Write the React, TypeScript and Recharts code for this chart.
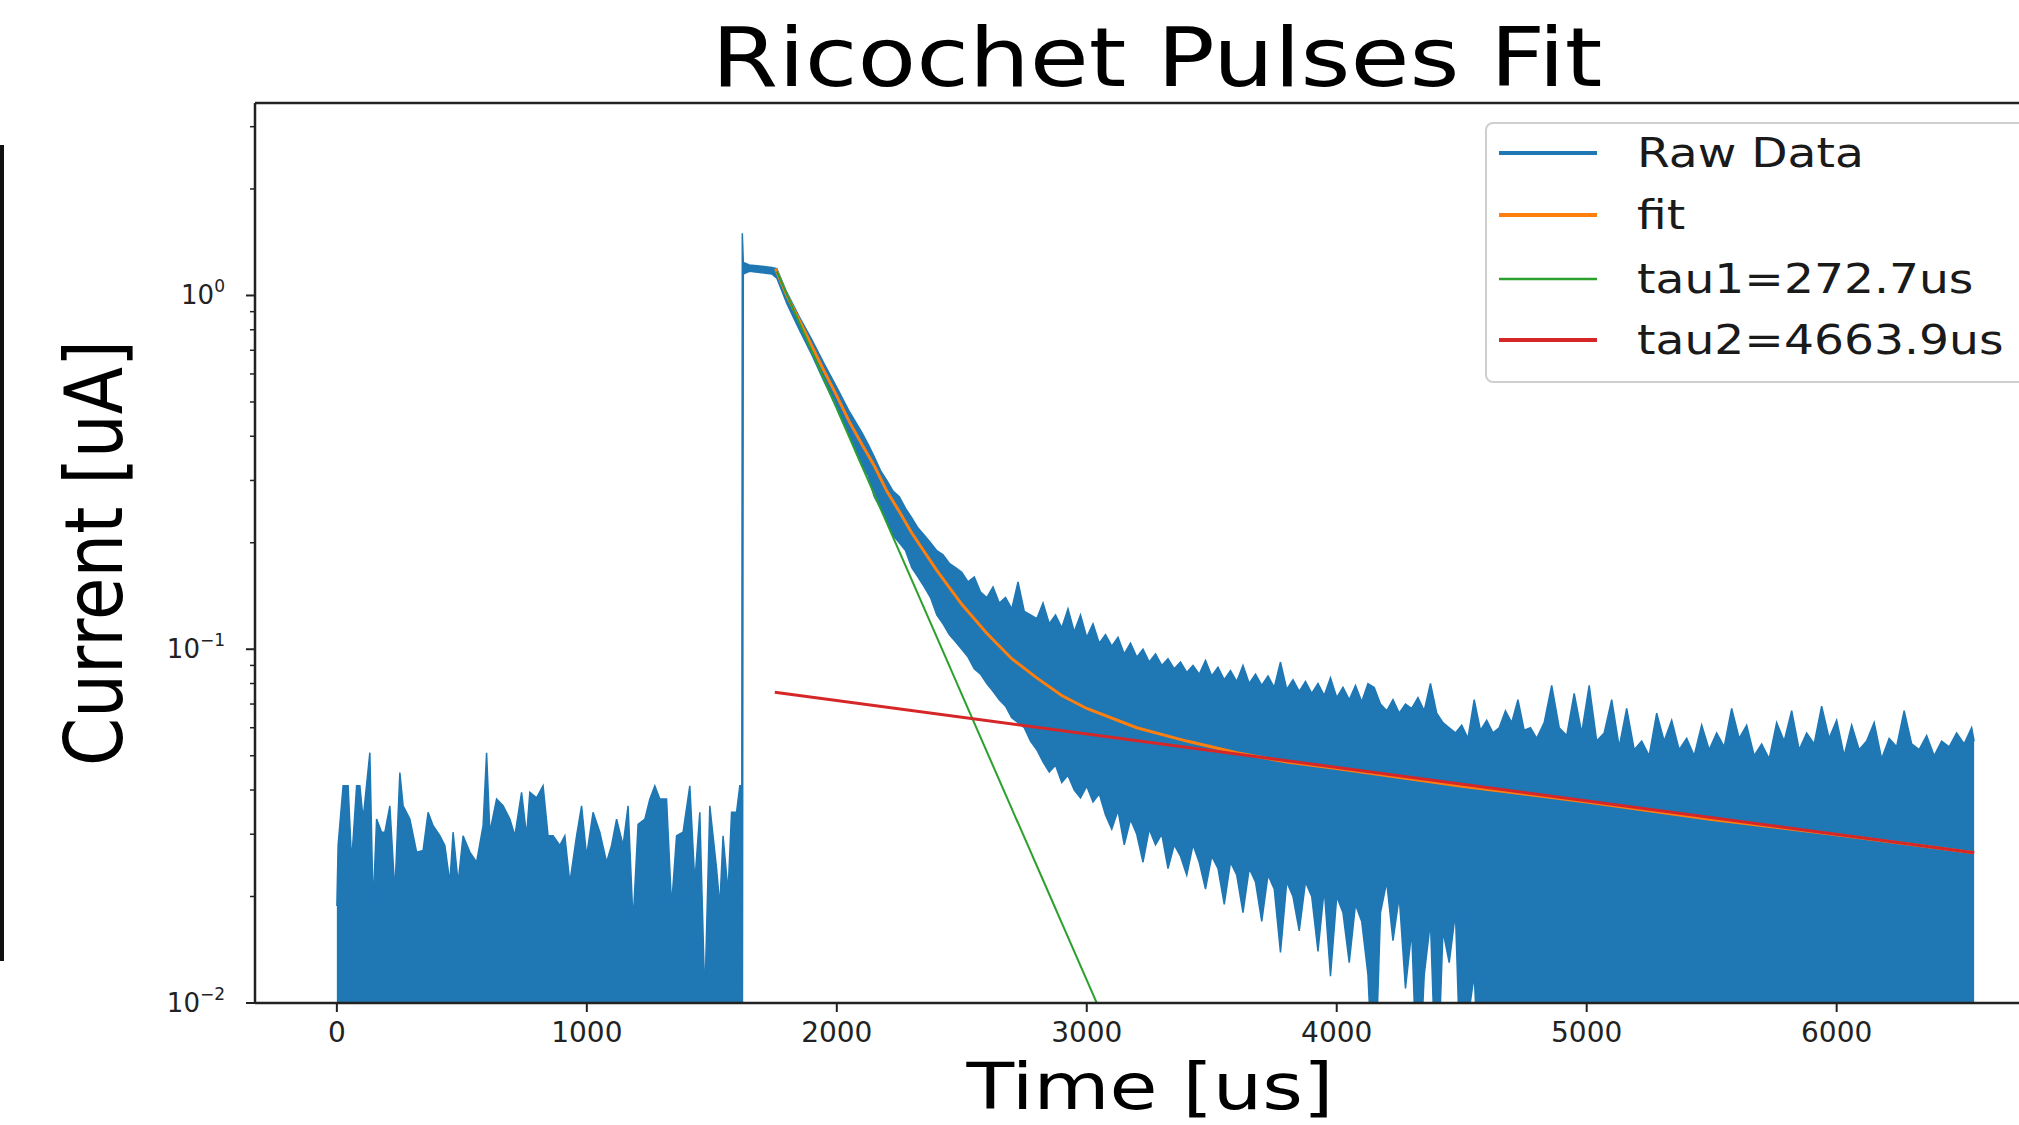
import React from 'react';
import { ComposedChart, Area, Line, XAxis, YAxis, Legend, ReferenceLine } from 'recharts';

const FONT = '"DejaVu Sans", "Liberation Sans", sans-serif';
const F = 0.005; // trough reaches below the 10^-2 axis floor

// ---- Raw data: baseline noise before the pulse (troughs reach below the axis) ----
const baseTime = [
  0, 5, 25, 45, 59, 79, 92, 105, 132, 145,
  159, 179, 192, 212, 232, 252, 265, 292, 319, 345,
  365, 385, 412, 432, 452, 465, 485, 505, 532, 559,
  585, 599, 612, 639, 665, 692, 712, 739, 759, 772,
  799, 825, 845, 865, 892, 912, 932, 959, 979, 999,
  1025, 1052, 1079, 1099, 1119, 1145, 1165, 1185, 1205, 1232,
  1252, 1272, 1292, 1319, 1339, 1359, 1385, 1412, 1432, 1452,
  1472, 1492, 1519, 1532, 1545, 1565, 1579, 1599, 1612, 1620,
];
const baseHigh = [
  0.0188, 0.0279, 0.0411, 0.0411, 0.025, 0.0411, 0.0411, 0.0331, 0.051, 0.0188,
  0.0331, 0.0304, 0.0304, 0.0361, 0.0206, 0.0448, 0.0361, 0.0331, 0.0267, 0.027,
  0.0346, 0.0317, 0.0297, 0.0279, 0.0219, 0.0304, 0.0219, 0.0297, 0.0267, 0.025,
  0.0317, 0.051, 0.0304, 0.0377, 0.0361, 0.0331, 0.0297, 0.0394, 0.0297, 0.0394,
  0.038, 0.0411, 0.0297, 0.0297, 0.0279, 0.0297, 0.0219, 0.0297, 0.0361, 0.026,
  0.0346, 0.0304, 0.025, 0.0279, 0.0331, 0.0279, 0.0361, 0.0169, 0.032, 0.0331,
  0.0377, 0.0411, 0.0377, 0.0377, 0.0188, 0.0297, 0.0304, 0.0411, 0.0219, 0.0346,
  0.0103, 0.0361, 0.024, 0.0188, 0.0297, 0.0206, 0.0346, 0.0346, 0.0411, 0.0411,
];

// ---- Raw data: pulse, plateau and decaying band ----
const pulseTime = [
  1622, 1626, 1650, 1700, 1740, 1760, 1800, 1850, 1900, 1950, 2000, 2050,
  2100, 2125, 2150, 2175, 2200, 2225, 2250, 2275, 2300, 2325,
  2350, 2375, 2400, 2425, 2450, 2475, 2500, 2525, 2550, 2575,
  2600, 2625, 2650, 2675, 2700, 2725, 2750, 2775, 2800, 2825,
  2850, 2875, 2900, 2925, 2950, 2975, 3000, 3025, 3050, 3075,
  3100, 3125, 3150, 3175, 3200, 3225, 3250, 3275, 3300, 3325,
  3350, 3375, 3400, 3425, 3450, 3475, 3500, 3525, 3550, 3575,
  3600, 3625, 3650, 3675, 3700, 3725, 3750, 3775, 3800, 3825,
  3850, 3875, 3900, 3925, 3950, 3975, 4000, 4025, 4050, 4075,
  4100, 4125, 4150, 4175, 4200, 4225, 4250, 4275, 4300, 4325,
  4350, 4375, 4400, 4425, 4450, 4475, 4500, 4525, 4550, 4575,
  4600, 4625, 4650, 4675, 4700, 4725, 4750, 4775, 4800, 4830,
];
const pulseLow = [
  F, 1.15, 1.17, 1.16, 1.15, 1.12, 0.95, 0.8, 0.68, 0.57, 0.48, 0.4,
  0.33, 0.31, 0.27, 0.25, 0.23, 0.21, 0.2, 0.19, 0.17, 0.16,
  0.15, 0.14, 0.125, 0.118, 0.11, 0.105, 0.1, 0.095, 0.088, 0.085,
  0.08, 0.076, 0.072, 0.069, 0.064, 0.062, 0.06, 0.055, 0.052, 0.048,
  0.045, 0.047, 0.042, 0.044, 0.04, 0.038, 0.041, 0.037, 0.039, 0.034,
  0.031, 0.035, 0.028, 0.033, 0.03, 0.025, 0.031, 0.028, 0.03, 0.024,
  0.028, 0.026, 0.023, 0.028, 0.025, 0.021, 0.026, 0.024, 0.019, 0.025,
  0.023, 0.018, 0.024, 0.022, 0.017, 0.023, 0.021, 0.0139, 0.022, 0.02,
  0.016, 0.022, 0.02, 0.014, 0.021, 0.0119, 0.02, 0.018, 0.013, 0.019,
  0.017, 0.012, F, 0.018, 0.022, 0.015, 0.02, 0.011, 0.016, F,
  0.012, 0.017, F, 0.016, 0.013, 0.018, F, 0.009, 0.012, F,
  0.011, F, 0.008, F, 0.008, F, 0.009, F, F, 0.007,
];
const pulseHigh = [
  1.5, 1.24, 1.22, 1.21, 1.2, 1.19, 1.02, 0.87, 0.75, 0.64, 0.55, 0.47,
  0.41, 0.38, 0.35, 0.32, 0.3, 0.28, 0.27, 0.25, 0.235, 0.22,
  0.21, 0.2, 0.19, 0.185, 0.175, 0.17, 0.165, 0.155, 0.16, 0.145,
  0.14, 0.15, 0.135, 0.14, 0.13, 0.155, 0.128, 0.125, 0.122, 0.135,
  0.118, 0.125, 0.115, 0.13, 0.112, 0.125, 0.108, 0.118, 0.104, 0.11,
  0.102, 0.108, 0.097, 0.104, 0.095, 0.1, 0.092, 0.097, 0.09, 0.094,
  0.088, 0.092, 0.086, 0.09, 0.085, 0.093, 0.084, 0.089, 0.082, 0.087,
  0.081, 0.09, 0.08, 0.085, 0.079, 0.084, 0.078, 0.092, 0.077, 0.082,
  0.076, 0.081, 0.075, 0.08, 0.074, 0.083, 0.073, 0.078, 0.072, 0.079,
  0.071, 0.08, 0.078, 0.07, 0.067, 0.072, 0.066, 0.07, 0.068, 0.073,
  0.067, 0.08, 0.066, 0.062, 0.06, 0.058, 0.061, 0.056, 0.072, 0.059,
  0.063, 0.058, 0.06, 0.067, 0.062, 0.072, 0.059, 0.06, 0.056, 0.062,
];

// ---- Raw data: tail (troughs reach below the axis) ----
const tailTime = [
  4860, 4890, 4920, 4950, 4980, 5010, 5040, 5070, 5100, 5130,
  5160, 5190, 5220, 5250, 5280, 5310, 5340, 5370, 5400, 5430,
  5460, 5490, 5520, 5550, 5580, 5610, 5640, 5670, 5700, 5730,
  5760, 5790, 5820, 5850, 5880, 5910, 5940, 5970, 6000, 6030,
  6060, 6090, 6120, 6150, 6180, 6210, 6240, 6270, 6300, 6330,
  6360, 6390, 6420, 6450, 6480, 6510, 6540, 6550,
];
const tailHigh = [
  0.079, 0.06, 0.057, 0.075, 0.058, 0.079, 0.055, 0.058, 0.072, 0.053,
  0.068, 0.052, 0.055, 0.05, 0.066, 0.055, 0.063, 0.052, 0.056, 0.05,
  0.061, 0.052, 0.058, 0.053, 0.068, 0.056, 0.061, 0.05, 0.054, 0.049,
  0.062, 0.055, 0.067, 0.052, 0.058, 0.054, 0.069, 0.056, 0.063, 0.05,
  0.061, 0.052, 0.055, 0.062, 0.049, 0.056, 0.053, 0.067, 0.054, 0.052,
  0.057, 0.05, 0.055, 0.053, 0.058, 0.054, 0.06, 0.055,
];

// ---- Fit curves ----
const fitTime = [1755, 1800, 1850, 1900, 1950, 2000, 2050, 2100, 2150, 2200, 2250, 2300, 2400, 2500, 2600, 2700, 2800, 2900, 3000, 3200, 3400, 3600, 3800, 4000, 4500, 5000, 5500, 6000, 6550];
const fitValue = [1.19, 1.0, 0.85, 0.72, 0.61, 0.52, 0.44, 0.38, 0.33, 0.28, 0.245, 0.213, 0.167, 0.134, 0.111, 0.094, 0.083, 0.074, 0.068, 0.06, 0.055, 0.051, 0.048, 0.046, 0.041, 0.037, 0.033, 0.0299, 0.0266];
const tau1Time = [1760, 3040];
const tau1Value = [1.17, 0.01];
const tau2Time = [1752, 6550];
const tau2Value = [0.0756, 0.0266];

// ---- Axes / legend text ----
const xTicks = [0, 1000, 2000, 3000, 4000, 5000, 6000];
const yTicks = [0.01, 0.02, 0.03, 0.04, 0.05, 0.06, 0.07, 0.08, 0.09, 0.1, 0.2, 0.3, 0.4, 0.5, 0.6, 0.7, 0.8, 0.9, 1, 2, 3];
const yMajorTicks = [0.01, 0.1, 1];
const yMajorExponents = ['\u22122', '\u22121', '0'];
const seriesNames = ['Raw Data', 'fit', 'tau1=272.7us', 'tau2=4663.9us'];
const seriesColors = ['#1f77b4', '#ff7f0e', '#2ca02c', '#d62728'];
const title = 'Ricochet Pulses Fit';
const xLabel = 'Time [us]';
const yLabel = 'Current [uA]';

const rawData = [
  ...baseTime.map((t, i) => ({ t, range: [F, baseHigh[i]] })),
  ...pulseTime.map((t, i) => ({ t, range: [pulseLow[i], pulseHigh[i]] })),
  ...tailTime.map((t, i) => ({ t, range: [F, tailHigh[i]] })),
];
const fitData = fitTime.map((t, i) => ({ t, v: fitValue[i] }));
const tau1Data = tau1Time.map((t, i) => ({ t, v: tau1Value[i] }));
const tau2Data = tau2Time.map((t, i) => ({ t, v: tau2Value[i] }));

const AXIS = '#222';

function XTick(props: any) {
  const { x, y, payload } = props;
  return (
    <g>
      <line x1={x} x2={x} y1={y} y2={y + 9} stroke={AXIS} strokeWidth={2} />
      <text x={x} y={y + 39} textAnchor="middle" fontSize={28} fontFamily={FONT} fill="#222">
        {payload.value}
      </text>
    </g>
  );
}

function YTick(props: any) {
  const { x, y, payload } = props;
  const idx = yMajorTicks.indexOf(payload.value);
  const major = idx >= 0;
  return (
    <g>
      <line x1={x - (major ? 9 : 5)} x2={x} y1={y} y2={y} stroke={AXIS} strokeWidth={major ? 2 : 1.5} />
      {major && (
        <text x={x - 30} y={y + 9} textAnchor="end" fontSize={26} fontFamily={FONT} fill="#222">
          10
          <tspan dy={-12} fontSize={17}>{yMajorExponents[idx]}</tspan>
        </text>
      )}
    </g>
  );
}

const legendRowY = [29, 91, 155, 216];
const legendLineWidth = [4, 4, 2.5, 4];

function LegendBox() {
  return (
    <div
      style={{
        width: 560,
        height: 261,
        boxSizing: 'border-box',
        border: '2px solid #cfcfcf',
        borderRadius: 8,
        background: 'rgba(255,255,255,0.85)',
      }}
    >
      <svg width={556} height={257} style={{ display: 'block' }}>
        {seriesNames.map((name, i) => (
          <g key={name}>
            <line x1={12} x2={110} y1={legendRowY[i]} y2={legendRowY[i]} stroke={seriesColors[i]} strokeWidth={legendLineWidth[i]} />
            <g transform={`translate(150,${legendRowY[i] + 14}) scale(1.18,1)`}>
              <text fontSize={40} fontFamily={FONT} fill="#1a1a1a">
                {name}
              </text>
            </g>
          </g>
        ))}
      </svg>
    </div>
  );
}

export default function App() {
  return (
    <div style={{ position: 'absolute', left: 0, top: 0, width: 2019, height: 1125, overflow: 'hidden', background: '#fff' }}>
      <div style={{ position: 'absolute', left: 0, top: 145, width: 4, height: 816, background: '#111' }} />
      <ComposedChart width={2070} height={1125} margin={{ top: 103, right: 14, bottom: 42, left: 155 }}>
        <XAxis
          type="number"
          dataKey="t"
          domain={[-327.5, 6877.5]}
          allowDataOverflow
          ticks={xTicks}
          interval={0}
          height={80}
          tickSize={0}
          tickMargin={0}
          tickLine={false}
          axisLine={{ stroke: AXIS, strokeWidth: 2.5 }}
          tick={<XTick />}
          label={() => (
            <g transform="translate(1150,1109) scale(1.22,1)">
              <text textAnchor="middle" fontSize={64} fontFamily={FONT} fill="#000">
                {xLabel}
              </text>
            </g>
          )}
        />
        <YAxis
          type="number"
          scale="log"
          domain={[0.01, 3.5]}
          allowDataOverflow
          ticks={yTicks}
          interval={0}
          width={100}
          tickSize={0}
          tickMargin={0}
          tickLine={false}
          axisLine={{ stroke: AXIS, strokeWidth: 2.5 }}
          tick={<YTick />}
          label={() => (
            <g transform="translate(122,553) scale(1.17,1) rotate(-90)">
              <text textAnchor="middle" fontSize={69} fontFamily={FONT} fill="#000">
                {yLabel}
              </text>
            </g>
          )}
        />
        <ReferenceLine y={3.5} stroke={AXIS} strokeWidth={2.5} />
        <Area
          data={rawData}
          dataKey="range"
          name={seriesNames[0]}
          type="linear"
          stroke={seriesColors[0]}
          strokeWidth={1.5}
          fill={seriesColors[0]}
          fillOpacity={1}
          dot={false}
          activeDot={false}
          isAnimationActive={false}
        />
        <Line data={fitData} dataKey="v" name={seriesNames[1]} type="linear" stroke={seriesColors[1]} strokeWidth={3} dot={false} activeDot={false} isAnimationActive={false} />
        <Line data={tau1Data} dataKey="v" name={seriesNames[2]} type="linear" stroke={seriesColors[2]} strokeWidth={2} dot={false} activeDot={false} isAnimationActive={false} />
        <Line data={tau2Data} dataKey="v" name={seriesNames[3]} type="linear" stroke={seriesColors[3]} strokeWidth={3} dot={false} activeDot={false} isAnimationActive={false} />
        <Legend
          layout="vertical"
          align="center"
          verticalAlign="middle"
          wrapperStyle={{ left: 1485, top: 122, width: 560, height: 261 }}
          content={() => <LegendBox />}
        />
        <g transform="translate(1157,86) scale(1.17,1)">
          <text textAnchor="middle" fontSize={82} fontFamily={FONT} fill="#000">
            {title}
          </text>
        </g>
      </ComposedChart>
    </div>
  );
}
